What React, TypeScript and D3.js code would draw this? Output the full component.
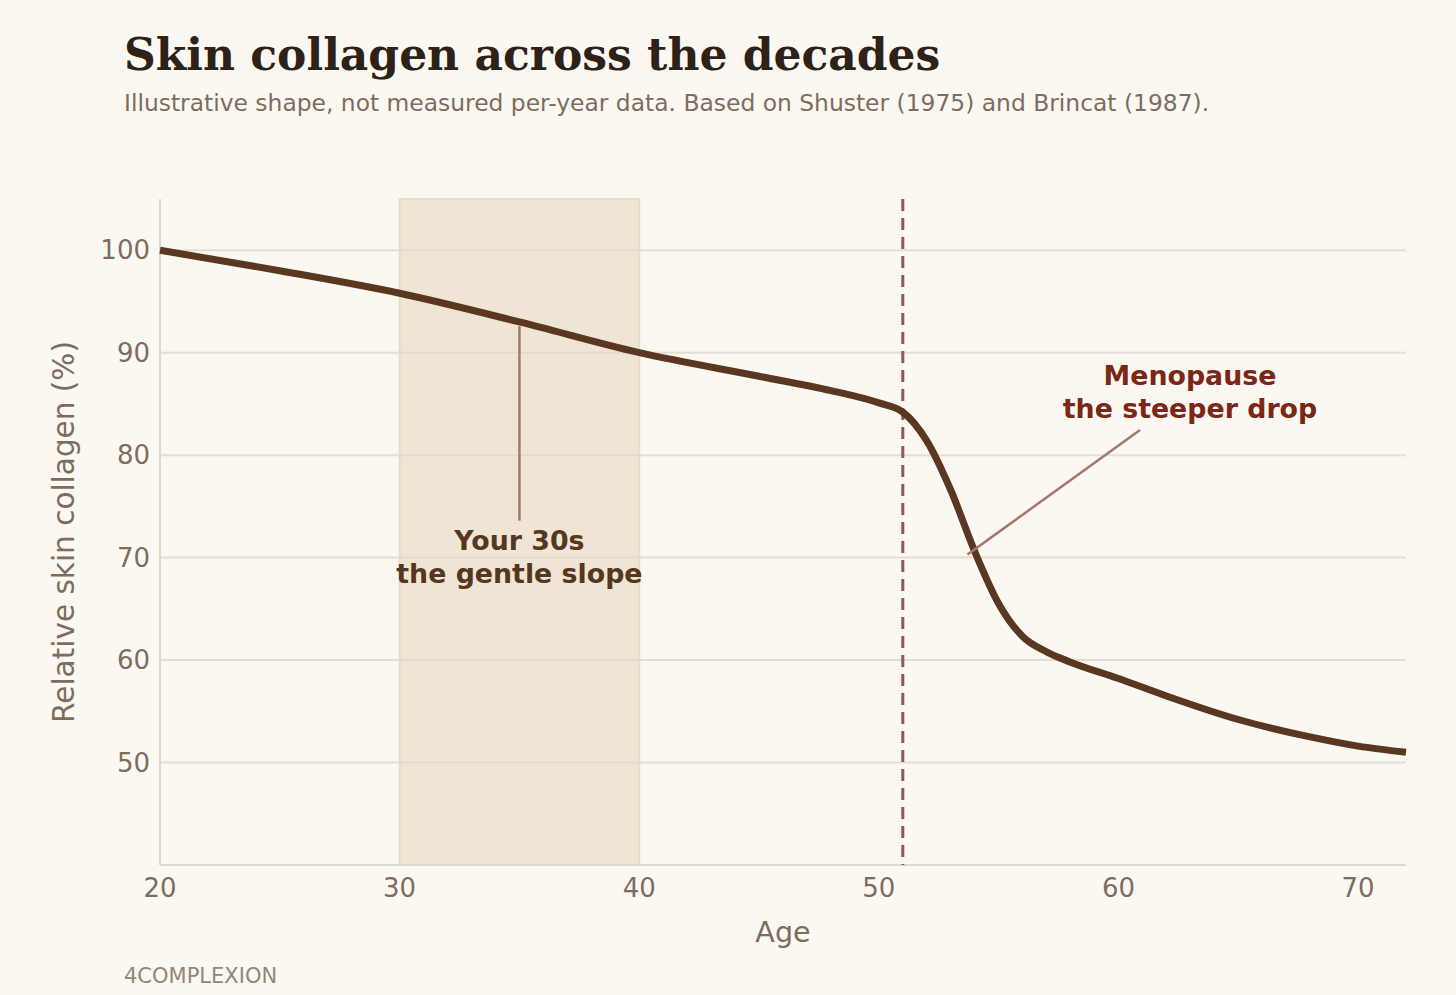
import * as d3 from "d3";
import React from "react";

// ages and relative collagen (%)
const ages = [20, 25, 30, 35, 40, 45, 48, 50, 51, 52, 53, 54, 55, 56, 57, 58, 60, 62, 65, 68, 70, 72];
const collagen = [100, 98.0, 95.8, 93.0, 90.0, 87.7, 86.3, 85.1, 84.2, 81.4, 76.6, 70.6, 65.5, 62.3, 60.8, 59.8, 58.2, 56.5, 54.2, 52.5, 51.6, 51.0];

const xTicks = [20, 30, 40, 50, 60, 70];
const yTicks = [50, 60, 70, 80, 90, 100];

const thirtiesBand = [30, 40];
const menopauseAge = 51;

const W = 1456;
const H = 995;
const margin = { top: 199, right: 50, bottom: 130, left: 160 };

const BG = "#fbf8f2";
const GRID = "#e0d8cd";
const TEXT = "#7d6d60";
const LINE = "#5a3720";

export default function App() {
  const x = d3
    .scaleLinear()
    .domain([20, 72])
    .range([margin.left, W - margin.right]);
  const y = d3
    .scaleLinear()
    .domain([40, 105])
    .range([H - margin.bottom, margin.top]);

  const pts: [number, number][] = ages.map((a, i) => [a, collagen[i]]);
  const line = d3
    .line<[number, number]>()
    .x((d) => x(d[0]))
    .y((d) => y(d[1]))
    .curve(d3.curveMonotoneX);

  const sans = "DejaVu Sans, sans-serif";
  const plotTop = y(105);
  const plotBottom = y(40);

  return (
    <svg
      width={W}
      height={H}
      style={{ position: "absolute", left: 0, top: 0, background: BG }}
    >
      <rect x={0} y={0} width={W} height={H} fill={BG} />

      <text x={124} y={70} fontFamily="DejaVu Serif, serif" fontWeight="bold" fontSize={44} fill="#2e2218">
        Skin collagen across the decades
      </text>
      <text x={124} y={111} fontFamily={sans} fontSize={23.4} fill={TEXT}>
        Illustrative shape, not measured per-year data. Based on Shuster (1975) and Brincat (1987).
      </text>

      {/* 30s band */}
      <rect
        x={x(thirtiesBand[0])}
        y={plotTop}
        width={x(thirtiesBand[1]) - x(thirtiesBand[0])}
        height={plotBottom - plotTop}
        fill="#f0e5d5"
        stroke="#e9dcc7"
        strokeWidth={2}
      />

      {/* gridlines */}
      {yTicks.map((t) => (
        <line
          key={t}
          x1={x(20)}
          x2={x(72)}
          y1={y(t)}
          y2={y(t)}
          stroke={GRID}
          strokeOpacity={0.85}
          strokeWidth={2}
        />
      ))}

      {/* axes */}
      <line x1={x(20)} x2={x(20)} y1={plotTop} y2={plotBottom} stroke={GRID} strokeWidth={2} />
      <line x1={x(20)} x2={x(72)} y1={plotBottom} y2={plotBottom} stroke={GRID} strokeWidth={2} />

      {yTicks.map((t) => (
        <text key={t} x={x(20) - 10} y={y(t) + 9} textAnchor="end" fontFamily={sans} fontSize={26} fill={TEXT}>
          {t}
        </text>
      ))}
      {xTicks.map((t) => (
        <text key={t} x={x(t)} y={plotBottom + 32} textAnchor="middle" fontFamily={sans} fontSize={26} fill={TEXT}>
          {t}
        </text>
      ))}

      <text x={(x(20) + x(72)) / 2} y={942} textAnchor="middle" fontFamily={sans} fontSize={28.6} fill={TEXT}>
        Age
      </text>
      <text
        transform={`translate(74,${(plotTop + plotBottom) / 2}) rotate(-90)`}
        textAnchor="middle"
        fontFamily={sans}
        fontSize={29.5}
        fill={TEXT}
      >
        Relative skin collagen (%)
      </text>

      {/* menopause marker */}
      <line
        x1={x(menopauseAge)}
        x2={x(menopauseAge)}
        y1={plotTop}
        y2={plotBottom}
        stroke="#8e5a52"
        strokeWidth={3}
        strokeDasharray="12,7"
      />

      {/* curve */}
      <path d={line(pts) ?? ""} fill="none" stroke={LINE} strokeWidth={7} strokeLinejoin="round" />

      {/* 30s annotation */}
      <line x1={x(35)} x2={x(35)} y1={y(92.6)} y2={y(73.6)} stroke="#9a7d68" strokeWidth={2.5} />
      <text x={x(35)} y={550} textAnchor="middle" fontFamily={sans} fontWeight="bold" fontSize={26.8} fill="#553720">
        <tspan x={x(35)}>Your 30s</tspan>
        <tspan x={x(35)} dy={33}>the gentle slope</tspan>
      </text>

      {/* menopause annotation */}
      <line x1={1140} x2={x(53.7)} y1={430} y2={y(70.3)} stroke="#a8756c" strokeWidth={2.5} />
      <text x={1190} y={385} textAnchor="middle" fontFamily={sans} fontWeight="bold" fontSize={26.8} fill="#7a2718">
        <tspan x={1190}>Menopause</tspan>
        <tspan x={1190} dy={33}>the steeper drop</tspan>
      </text>

      <text x={124} y={983} fontFamily={sans} fontSize={21} fill="#958677">
        4COMPLEXION
      </text>
    </svg>
  );
}
